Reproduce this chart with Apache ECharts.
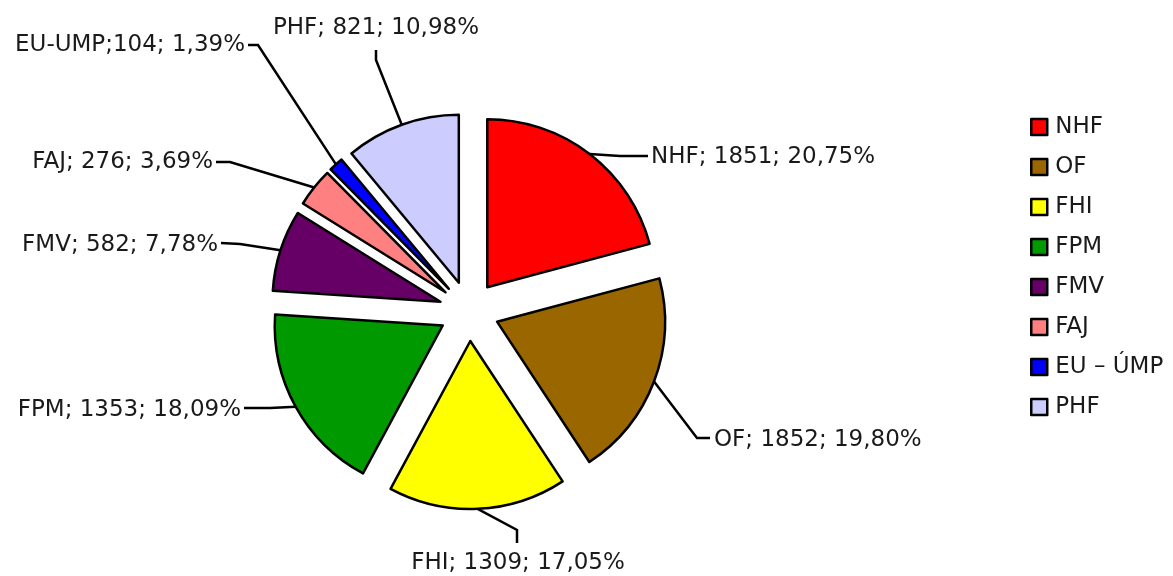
<!DOCTYPE html>
<html>
<head>
<meta charset="utf-8">
<script src="https://cdn.jsdelivr.net/npm/echarts@6/dist/echarts.min.js"></script>
<style>
  html, body { margin: 0; padding: 0; background: #fff; }
  #chart { width: 1173px; height: 576px; }
</style>
</head>
<body>
<div id="chart"></div>
<script>
// data
const names = ['NHF', 'OF', 'FHI', 'FPM', 'FMV', 'FAJ', 'EU – ÚMP', 'PHF']
const labelPrefix = ['NHF; ', 'OF; ', 'FHI; ', 'FPM; ', 'FMV; ', 'FAJ; ', 'EU-UMP;', 'PHF; ']
const counts = [1851, 1852, 1309, 1353, 582, 276, 104, 821]
const shares = ['20,75', '19,80', '17,05', '18,09', '7,78', '3,69', '1,39', '10,98']
const colors = ['#FF0000', '#996600', '#FFFF00', '#009900', '#660066', '#FF8080', '#0000FF', '#CCCCFF']

const font = 'DejaVu Sans'
const center = [469, 311]
const radius = 168
const explode = 30

// where each label sits and how its leader line bends
const labelPos = [
  { x: 651, y: 157, align: 'left', elbow: [620, 156], end: [648, 156] },
  { x: 714, y: 440, align: 'left', elbow: [697, 438], end: [710, 438] },
  { x: 518, y: 563, align: 'center', elbow: [517, 530], end: [517, 543] },
  { x: 241, y: 410, align: 'right', elbow: [270, 408], end: [244, 408] },
  { x: 218, y: 245, align: 'right', elbow: [240, 244], end: [221, 243] },
  { x: 213, y: 162, align: 'right', elbow: [230, 162], end: [216, 162] },
  { x: 245, y: 45, align: 'right', elbow: [258, 45], end: [248, 45] },
  { x: 376, y: 28, align: 'center', elbow: [376, 60], end: [376, 50] }
]

const values = shares.map(s => parseFloat(s.replace(',', '.')))
const total = values.reduce((a, b) => a + b, 0)

const lineStyle = { color: '#000', width: 2.5 }

// each slice is its own pie series, moved out along its middle angle
const series = []
let acc = 0
names.forEach((name, i) => {
  const mid = (acc + values[i] / 2) / total * Math.PI * 2
  acc += values[i]
  const cx = center[0] + Math.sin(mid) * explode
  const cy = center[1] - Math.cos(mid) * explode
  series.push({
    type: 'pie',
    name: name,
    center: [cx, cy],
    radius: [0, radius],
    startAngle: 90,
    clockwise: true,
    avoidLabelOverlap: false,
    emphasis: { disabled: true },
    silent: true,
    label: {
      fontFamily: font,
      fontSize: 23,
      color: '#1a1a1a'
    },
    labelLine: {
      length: 15,
      length2: 15,
      lineStyle: lineStyle
    },
    data: names.map((n, j) => j === i ? {
      name: n,
      value: values[j],
      itemStyle: { color: colors[j], borderColor: '#000', borderWidth: 2.5 },
      label: {
        show: true,
        position: 'outside',
        formatter: labelPrefix[j] + counts[j] + '; ' + shares[j] + '%'
      },
      labelLine: { show: true, lineStyle: lineStyle }
    } : {
      name: n,
      value: values[j],
      itemStyle: { color: 'rgba(0,0,0,0)', borderWidth: 0 },
      label: { show: false },
      labelLine: { show: false }
    }),
    labelLayout: params => {
      if (params.dataIndex !== i) return {}
      const p = labelPos[i]
      const start = params.labelLinePoints ? params.labelLinePoints[0] : p.elbow
      return {
        x: p.x,
        y: p.y,
        align: p.align,
        verticalAlign: 'middle',
        labelLinePoints: [start, p.elbow, p.end]
      }
    }
  })
})

const chart = echarts.init(document.getElementById('chart'), null, { renderer: 'canvas' })

chart.setOption({
  animation: false,
  backgroundColor: '#fff',
  legend: {
    orient: 'vertical',
    left: 1025,
    top: 110,
    itemWidth: 16,
    itemHeight: 16,
    itemGap: 16,
    icon: 'rect',
    selectedMode: false,
    data: names.map((n, i) => ({
      name: n,
      itemStyle: { color: colors[i], borderColor: '#000', borderWidth: 2.5 }
    })),
    textStyle: { fontFamily: font, fontSize: 23, lineHeight: 24, color: '#1a1a1a', padding: [0, 0, 0, 3] }
  },
  series: series
})
</script>
</body>
</html>
